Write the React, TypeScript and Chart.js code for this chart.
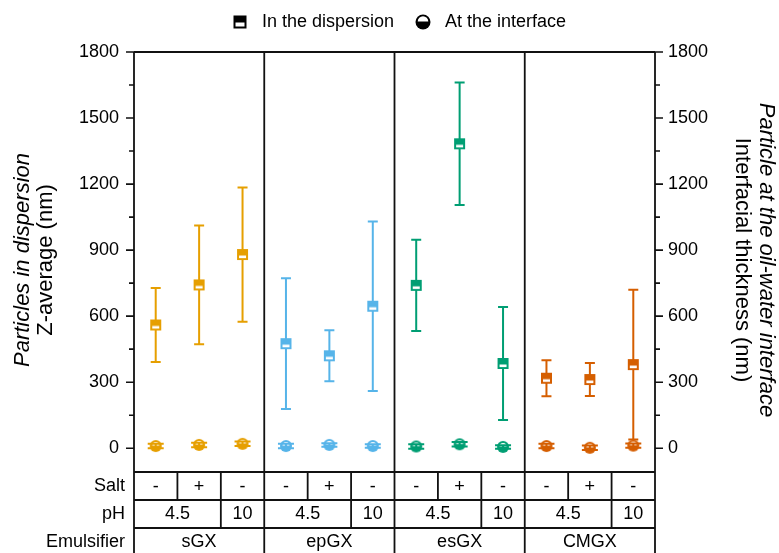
import React, { useEffect, useRef } from 'react';
import { Chart, registerables } from 'chart.js';

Chart.register(...registerables);

// ---- data ----
const emulsifiers = ['sGX', 'epGX', 'esGX', 'CMGX'];
const groupColors = ['#E69F00', '#56B4E9', '#009E73', '#D55E00'];
const categories = [
  'sGX 4.5 -', 'sGX 4.5 +', 'sGX 10 -',
  'epGX 4.5 -', 'epGX 4.5 +', 'epGX 10 -',
  'esGX 4.5 -', 'esGX 4.5 +', 'esGX 10 -',
  'CMGX 4.5 -', 'CMGX 4.5 +', 'CMGX 10 -',
];
const saltLabels = ['-', '+', '-', '-', '+', '-', '-', '+', '-', '-', '+', '-'];
const phCells = [
  { label: '4.5', from: 0, to: 1 }, { label: '10', from: 2, to: 2 },
  { label: '4.5', from: 3, to: 4 }, { label: '10', from: 5, to: 5 },
  { label: '4.5', from: 6, to: 7 }, { label: '10', from: 8, to: 8 },
  { label: '4.5', from: 9, to: 10 }, { label: '10', from: 11, to: 11 },
];
const dispersionMean = [560, 742, 880, 475, 420, 645, 740, 1383, 385, 318, 312, 380];
const dispersionErr = [168, 270, 305, 297, 116, 385, 207, 278, 257, 82, 75, 340];
const interfaceMean = [10, 15, 20, 10, 15, 10, 8, 18, 6, 10, 2, 12];
const interfaceErr = [10, 10, 10, 10, 8, 8, 10, 10, 8, 10, 10, 10];
const yTicks = [0, 300, 600, 900, 1200, 1500, 1800];
const yMinorTicks = [150, 450, 750, 1050, 1350, 1650];
const Y_MIN = -108;
const Y_MAX = 1800;

const FONT = "'Liberation Sans', Arial, Helvetica, sans-serif";
const LINE = '#111111';

const pointColors = categories.map((_, i) => groupColors[Math.floor(i / 3)]);

function squareImg(color: string) {
  const c = document.createElement('canvas');
  c.width = 13; c.height = 13;
  const g = c.getContext('2d')!;
  g.fillStyle = color;
  g.fillRect(1, 1, 11, 11);
  g.fillStyle = '#ffffff';
  g.fillRect(3, 7.5, 7, 2.6);
  return c;
}

function circleImg(color: string) {
  const c = document.createElement('canvas');
  c.width = 14; c.height = 14;
  const g = c.getContext('2d')!;
  g.fillStyle = color;
  g.beginPath(); g.arc(7, 7, 6, 0, Math.PI * 2); g.fill();
  g.fillStyle = '#ffffff';
  g.beginPath(); g.arc(7, 6.6, 3.5, Math.PI, Math.PI * 2); g.closePath(); g.fill();
  return c;
}

function drawErrors(chart: any, dsIndex: number, means: number[], errs: number[], capW: number) {
  const ctx = chart.ctx;
  const meta = chart.getDatasetMeta(dsIndex);
  const ys = chart.scales.y;
  ctx.save();
  ctx.lineWidth = 2;
  means.forEach((m, i) => {
    const x = meta.data[i].x;
    const yt = ys.getPixelForValue(m + errs[i]);
    const yb = ys.getPixelForValue(m - errs[i]);
    ctx.strokeStyle = pointColors[i];
    ctx.beginPath();
    ctx.moveTo(x, yt); ctx.lineTo(x, yb);
    ctx.moveTo(x - capW / 2, yt); ctx.lineTo(x + capW / 2, yt);
    ctx.moveTo(x - capW / 2, yb); ctx.lineTo(x + capW / 2, yb);
    ctx.stroke();
  });
  ctx.restore();
}

const decorPlugin = {
  id: 'decor',
  beforeDatasetsDraw(chart: any) {
    drawErrors(chart, 0, dispersionMean, dispersionErr, 10);
  },
  afterDatasetsDraw(chart: any) {
    drawErrors(chart, 1, interfaceMean, interfaceErr, 16);
  },
  afterDraw(chart: any) {
    const ctx = chart.ctx as CanvasRenderingContext2D;
    const { left, right, top, bottom } = chart.chartArea;
    const ys = chart.scales.y;
    const n = categories.length;
    const w = (right - left) / n;
    const bx = (k: number) => left + k * w;
    const rowH = 28;
    const r1 = bottom, r2 = bottom + rowH, r3 = bottom + 2 * rowH, r4 = bottom + 3 * rowH;

    ctx.save();
    ctx.strokeStyle = LINE;
    ctx.lineWidth = 1.8;
    ctx.beginPath();
    // frame
    ctx.moveTo(left, top); ctx.lineTo(right, top);
    ctx.moveTo(left, top); ctx.lineTo(left, r4);
    ctx.moveTo(right, top); ctx.lineTo(right, r4);
    // group separators
    for (let k = 3; k < n; k += 3) { ctx.moveTo(bx(k), top); ctx.lineTo(bx(k), r4); }
    // table rows
    [r1, r2, r3].forEach((yy) => { ctx.moveTo(left, yy); ctx.lineTo(right, yy); });
    // salt row separators
    for (let k = 1; k < n; k++) { if (k % 3 !== 0) { ctx.moveTo(bx(k), r1); ctx.lineTo(bx(k), r2); } }
    // pH row separators
    for (let k = 1; k < n; k++) { if (k % 3 === 2) { ctx.moveTo(bx(k), r2); ctx.lineTo(bx(k), r3); } }
    ctx.stroke();

    // ticks
    ctx.lineWidth = 1.6;
    ctx.beginPath();
    yTicks.forEach((v) => {
      const y = ys.getPixelForValue(v);
      ctx.moveTo(left - 8, y); ctx.lineTo(left, y);
      ctx.moveTo(right, y); ctx.lineTo(right + 8, y);
    });
    yMinorTicks.forEach((v) => {
      const y = ys.getPixelForValue(v);
      ctx.moveTo(left - 5, y); ctx.lineTo(left, y);
      ctx.moveTo(right, y); ctx.lineTo(right + 5, y);
    });
    ctx.stroke();

    // table text
    ctx.fillStyle = '#000';
    ctx.font = `18px ${FONT}`;
    ctx.textBaseline = 'middle';
    ctx.textAlign = 'right';
    ctx.fillText('Salt', 125, (r1 + r2) / 2);
    ctx.fillText('pH', 125, (r2 + r3) / 2);
    ctx.fillText('Emulsifier', 125, (r3 + r4) / 2);
    ctx.textAlign = 'center';
    saltLabels.forEach((s, i) => ctx.fillText(s, bx(i) + w / 2, (r1 + r2) / 2 + 1));
    phCells.forEach((c) => ctx.fillText(c.label, (bx(c.from) + bx(c.to + 1)) / 2, (r2 + r3) / 2));
    emulsifiers.forEach((e, g) => ctx.fillText(e, (bx(g * 3) + bx(g * 3 + 3)) / 2, (r3 + r4) / 2));

    // axis titles
    const cy = 260;
    ctx.save();
    ctx.translate(23, cy); ctx.rotate(-Math.PI / 2);
    ctx.font = `italic 22px ${FONT}`;
    ctx.fillText('Particles in dispersion', 0, 0);
    ctx.restore();
    ctx.save();
    ctx.translate(46, cy); ctx.rotate(-Math.PI / 2);
    ctx.font = `22px ${FONT}`;
    ctx.fillText('Z-average (nm)', 0, 0);
    ctx.restore();
    ctx.save();
    ctx.translate(766, cy); ctx.rotate(Math.PI / 2);
    ctx.font = `italic 22px ${FONT}`;
    ctx.fillText('Particle at the oil-water interface', 0, 0);
    ctx.restore();
    ctx.save();
    ctx.translate(742, cy); ctx.rotate(Math.PI / 2);
    ctx.font = `22px ${FONT}`;
    ctx.fillText('Interfacial thickness (nm)', 0, 0);
    ctx.restore();

    // legend
    const ly = 22;
    ctx.fillStyle = '#000';
    ctx.fillRect(240 - 6.5, ly - 6.5, 13, 13);
    ctx.fillStyle = '#fff';
    ctx.fillRect(240 - 4.5, ly + 0.5, 9, 4);
    ctx.fillStyle = '#000';
    ctx.beginPath(); ctx.arc(423, ly, 7.5, 0, Math.PI * 2); ctx.fill();
    ctx.fillStyle = '#fff';
    ctx.beginPath(); ctx.arc(423, ly - 0.5, 5.3, Math.PI, Math.PI * 2); ctx.closePath(); ctx.fill();
    ctx.fillStyle = '#000';
    ctx.font = `18px ${FONT}`;
    ctx.textAlign = 'left';
    ctx.fillText(chart.data.datasets[0].label, 262, ly);
    ctx.fillText(chart.data.datasets[1].label, 445, ly);
    ctx.restore();
  },
};

export default function App() {
  const ref = useRef<HTMLCanvasElement | null>(null);
  useEffect(() => {
    if (!ref.current) return;
    const squares = groupColors.map(squareImg);
    const circles = groupColors.map(circleImg);
    const sqStyles = categories.map((_, i) => squares[Math.floor(i / 3)]);
    const ciStyles = categories.map((_, i) => circles[Math.floor(i / 3)]);
    const fixTicks = (scale: any) => { scale.ticks = yTicks.map((v) => ({ value: v })); };
    const tickLabel = (v: any) => String(v);
    const chart = new Chart(ref.current, {
      type: 'line',
      data: {
        labels: categories,
        datasets: [
          {
            label: 'In the dispersion',
            data: dispersionMean,
            showLine: false,
            pointStyle: sqStyles as any,
            pointRadius: 6,
            yAxisID: 'y',
          },
          {
            label: 'At the interface',
            data: interfaceMean,
            showLine: false,
            pointStyle: ciStyles as any,
            pointRadius: 7,
            yAxisID: 'y',
          },
        ],
      },
      options: {
        responsive: false,
        animation: false,
        events: [],
        layout: { padding: { left: 0, right: 0, top: 52, bottom: 81 } },
        plugins: { legend: { display: false }, tooltip: { enabled: false } },
        scales: {
          x: { type: 'category', display: false, offset: true },
          y: {
            position: 'left', min: Y_MIN, max: Y_MAX,
            grid: { display: false, drawTicks: false },
            border: { display: false },
            ticks: { padding: 15, color: '#000', font: { size: 18, family: FONT }, callback: tickLabel },
            afterBuildTicks: fixTicks,
            afterFit: (s: any) => { s.width = 134; },
          },
          y2: {
            position: 'right', min: Y_MIN, max: Y_MAX,
            grid: { display: false, drawTicks: false },
            border: { display: false },
            ticks: { padding: 13, color: '#000', font: { size: 18, family: FONT }, callback: tickLabel },
            afterBuildTicks: fixTicks,
            afterFit: (s: any) => { s.width = 124; },
          },
        },
      },
      plugins: [decorPlugin],
    });
    return () => chart.destroy();
  }, []);
  return (
    <div style={{ position: 'absolute', left: 0, top: 0, width: 779, height: 553, background: '#fff' }}>
      <canvas ref={ref} width={779} height={553} style={{ display: 'block' }} />
    </div>
  );
}
